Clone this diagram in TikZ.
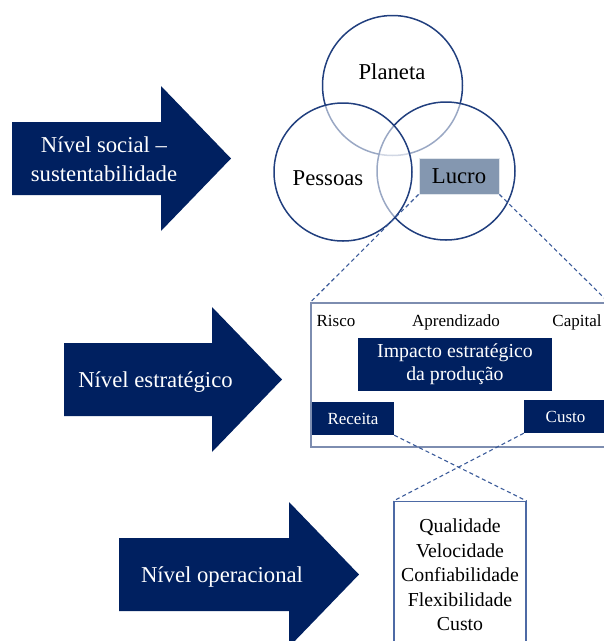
\documentclass[tikz,border=0pt]{standalone}
\usepackage{fontspec}
\setmainfont{Liberation Serif}
\definecolor{navy}{HTML}{002060}
\definecolor{ringblue}{HTML}{213F7E}
\definecolor{boxgray}{HTML}{8497B0}
\definecolor{framegray}{HTML}{7D8DB0}
\definecolor{opframe}{HTML}{4D6AA5}
\definecolor{linkblue}{HTML}{3A5A99}
\newcommand{\levelarrow}[3]{\fill[navy] (#1,#2-36.5) -- (#1+#3,#2-36.5) -- (#1+#3,#2-72.5) -- (#1+#3+70,#2) -- (#1+#3,#2+72.5) -- (#1+#3,#2+36.5) -- (#1,#2+36.5) -- cycle;}
\newcommand{\bigfont}{\fontsize{22.7}{28.5}\selectfont}
\newcommand{\midfont}{\fontsize{19.8}{23}\selectfont}
\newcommand{\smallfont}{\fontsize{17}{20}\selectfont}

\begin{document}
\begin{tikzpicture}[x=1pt, y=-1pt,
  ring/.style={circle, draw=ringblue, line width=1.5pt, fill=white, fill opacity=0.55, minimum size=138pt, inner sep=0pt},
  navybox/.style={fill=navy, text=white, inner sep=0pt},
  link/.style={draw=linkblue, line width=1.1pt, dash pattern=on 4pt off 3pt}]
\useasboundingbox (0,0) rectangle (604,641);

% level arrows
\levelarrow{12}{158.5}{149}
\levelarrow{64}{379.5}{148}
\levelarrow{119}{574.5}{170}
\node[text=white, align=center, font=\bigfont] (social) at (104,159) {Nível social --\\sustentabilidade};
\node[text=white, anchor=base, font=\bigfont] (estrat) at (155.5,387.3) {Nível estratégico};
\node[text=white, anchor=base, font=\bigfont] (operac) at (222,582.7) {Nível operacional};

% triple bottom line
\node[ring, minimum size=140pt] (planeta) at (392.5,85.5) {};
\node[ring] (lucroc) at (446,171) {};
\node[ring] (pessoas) at (343,172) {};
\node[font=\bigfont] (planetat) at (392,71.5) {Planeta};
\node[font=\bigfont] (pessoast) at (328,178) {Pessoas};
\node[fill=boxgray, draw=white!75!boxgray, line width=0.8pt, minimum width=80pt, minimum height=36pt, inner sep=0pt, font=\bigfont] (lucro) at (459,176) {Lucro};

% strategic level
\node[draw=framegray, line width=1.3pt, minimum width=297pt, minimum height=144pt, inner sep=0pt] (strat) at (459.5,375) {};
\node[anchor=base, font=\smallfont] (risco) at (336,326) {Risco};
\node[anchor=base, font=\smallfont] (aprend) at (456,326) {Aprendizado};
\node[anchor=base, font=\smallfont] (capital) at (577,326) {Capital};
\node[navybox, align=center, minimum width=194pt, minimum height=53pt, font=\midfont] (impacto) at (455,364.5) {Impacto estratégico\\da produção};
\node[navybox, minimum width=82pt, minimum height=33pt, font=\smallfont] (receita) at (353,418.5) {Receita};
\node[navybox, minimum width=83pt, minimum height=33pt, font=\smallfont] (custo) at (565.5,416.5) {Custo};

% operational level
\node[draw=opframe, line width=1.3pt, anchor=north, text width=128pt, inner xsep=2pt, inner ysep=17.2pt, align=center, font=\fontsize{19.8}{24.6}\selectfont] (oper) at (460,501) {Qualidade\\Velocidade\\Confiabilidade\\Flexibilidade\\Custo};

\draw[link] (lucro.south west) -- (strat.north west);
\draw[link] (lucro.south east) -- (strat.north east);
\draw[link] (receita.south east) -- (oper.north east);
\draw[link] (custo.south west) -- (oper.north west);
\end{tikzpicture}
\end{document}
